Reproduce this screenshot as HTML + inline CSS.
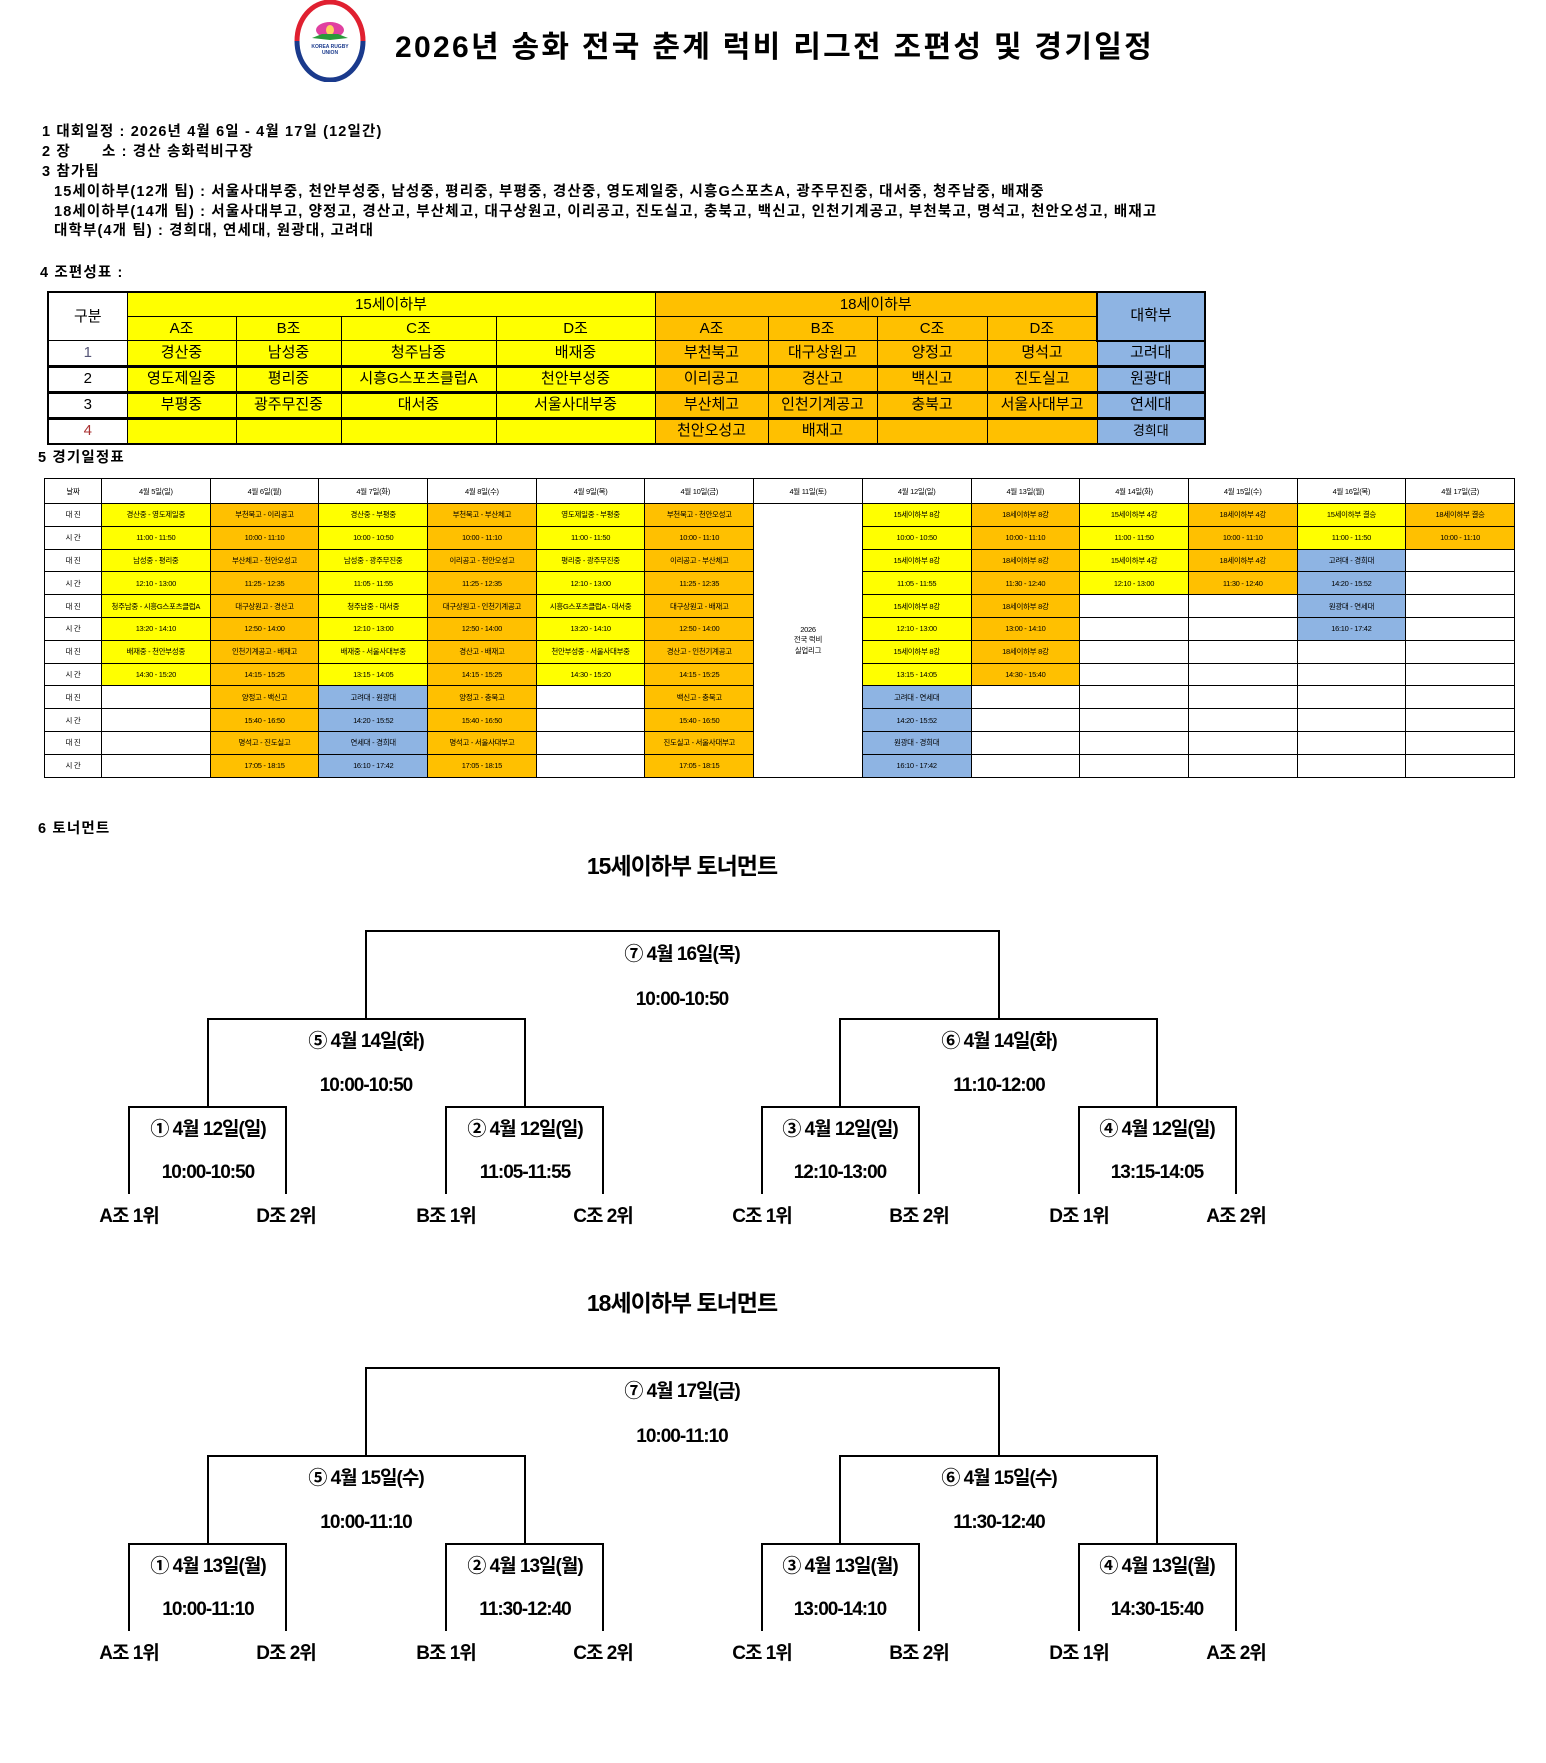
<!DOCTYPE html>
<html><head><meta charset="utf-8">
<style>
body{margin:0;background:#fff;}
#p{position:relative;width:1546px;height:1763px;overflow:hidden;font-family:"Liberation Sans","Noto Sans CJK KR",sans-serif;color:#000;}
.a{position:absolute;white-space:nowrap;}
.info{font-size:14.5px;font-weight:bold;letter-spacing:1.15px;}
table{border-collapse:collapse;table-layout:fixed;position:absolute;}
#g td{border:1px solid #000;text-align:center;font-size:15px;padding:0;height:23px;line-height:20px;}
#g tr.tk td{border-top:3px solid #000;}
#s td{border:1px solid #000;text-align:center;font-size:7.5px;padding:0;height:21.8px;overflow:hidden;white-space:nowrap;letter-spacing:-0.3px;}
#s tr.h td{height:24px;}
.Y{background:#ffff00;}.O{background:#ffc000;}.B{background:#8eb4e3;}
</style></head><body><div id="p">

<svg class="a" style="left:294px;top:0" width="72" height="82" viewBox="0 0 72 82">
<path d="M3,41 A33,39 0 0 1 69,41" fill="none" stroke="#e02030" stroke-width="5"/>
<path d="M3,41 A33,39 0 0 0 69,41" fill="none" stroke="#1a3a8c" stroke-width="5"/>
<ellipse cx="36" cy="30" rx="14" ry="8" fill="#e040a0"/>
<ellipse cx="36" cy="30" rx="4" ry="5" fill="#ffd060"/>
<path d="M18,38 L28,34 L44,34 L54,38 L36,40Z" fill="#2a9a3a"/>
<text x="36" y="48" font-size="5" text-anchor="middle" fill="#1a3a8c" font-weight="bold" font-family="Liberation Sans">KOREA RUGBY</text>
<text x="36" y="54" font-size="5" text-anchor="middle" fill="#1a3a8c" font-weight="bold" font-family="Liberation Sans">UNION</text>
</svg>
<div class="a" style="left:395px;top:22px;font-size:30px;font-weight:bold;letter-spacing:2.3px;">2026년 송화 전국 춘계 럭비 리그전 조편성 및 경기일정</div>

<div class="a info" style="left:42px;top:120px">1 대회일정 : 2026년 4월 6일 - 4월 17일 (12일간)</div>
<div class="a info" style="left:42px;top:140px">2 장&nbsp;&nbsp;&nbsp;&nbsp;&nbsp; 소 : 경산 송화럭비구장</div>
<div class="a info" style="left:42px;top:160px">3 참가팀</div>
<div class="a info" style="left:54px;top:180px">15세이하부(12개 팀) : 서울사대부중, 천안부성중, 남성중, 평리중, 부평중, 경산중, 영도제일중, 시흥G스포츠A, 광주무진중, 대서중, 청주남중, 배재중</div>
<div class="a info" style="left:54px;top:200px">18세이하부(14개 팀) : 서울사대부고, 양정고, 경산고, 부산체고, 대구상원고, 이리공고, 진도실고, 충북고, 백신고, 인천기계공고, 부천북고, 명석고, 천안오성고, 배재고</div>
<div class="a info" style="left:54px;top:219px">대학부(4개 팀) : 경희대, 연세대, 원광대, 고려대</div>
<div class="a info" style="left:40px;top:261px">4 조편성표 :</div>

<table id="g" style="left:47px;top:291px;width:1157px;border:2px solid #000">
<colgroup><col style="width:79px"><col style="width:109px"><col style="width:105px"><col style="width:155px"><col style="width:159px"><col style="width:113px"><col style="width:109px"><col style="width:110px"><col style="width:110px"><col style="width:108px"></colgroup>
<tr><td rowspan="2">구분</td><td class="Y" colspan="4">15세이하부</td><td class="O" colspan="4">18세이하부</td><td class="B" rowspan="2" style="border:2px solid #000">대학부</td></tr>
<tr><td class="Y">A조</td><td class="Y">B조</td><td class="Y">C조</td><td class="Y">D조</td><td class="O">A조</td><td class="O">B조</td><td class="O">C조</td><td class="O">D조</td></tr>
<tr><td style="color:#557">1</td><td class="Y">경산중</td><td class="Y">남성중</td><td class="Y">청주남중</td><td class="Y">배재중</td><td class="O">부천북고</td><td class="O">대구상원고</td><td class="O">양정고</td><td class="O">명석고</td><td class="B">고려대</td></tr>
<tr class="tk"><td>2</td><td class="Y">영도제일중</td><td class="Y">평리중</td><td class="Y">시흥G스포츠클럽A</td><td class="Y">천안부성중</td><td class="O">이리공고</td><td class="O">경산고</td><td class="O">백신고</td><td class="O">진도실고</td><td class="B">원광대</td></tr>
<tr class="tk"><td>3</td><td class="Y">부평중</td><td class="Y">광주무진중</td><td class="Y">대서중</td><td class="Y">서울사대부중</td><td class="O">부산체고</td><td class="O">인천기계공고</td><td class="O">충북고</td><td class="O">서울사대부고</td><td class="B">연세대</td></tr>
<tr class="tk"><td style="color:#a33">4</td><td class="Y"></td><td class="Y"></td><td class="Y"></td><td class="Y"></td><td class="O">천안오성고</td><td class="O">배재고</td><td class="O"></td><td class="O"></td><td class="B" style="font-size:13px">경희대</td></tr>
</table>

<div class="a info" style="left:38px;top:446px">5 경기일정표</div>

<table id="s" style="left:44px;top:478px;width:1470px">
<colgroup><col style="width:57px"><col span="13" style="width:108.7px"></colgroup>
<tr class="h"><td>날짜</td><td>4월 5일(일)</td><td>4월 6일(월)</td><td>4월 7일(화)</td><td>4월 8일(수)</td><td>4월 9일(목)</td><td>4월 10일(금)</td><td>4월 11일(토)</td><td>4월 12일(일)</td><td>4월 13일(월)</td><td>4월 14일(화)</td><td>4월 15일(수)</td><td>4월 16일(목)</td><td>4월 17일(금)</td></tr>
<tr><td>대 진</td><td class="Y">경산중 - 영도제일중</td><td class="O">부천북고 - 이리공고</td><td class="Y">경산중 - 부평중</td><td class="O">부천북고 - 부산체고</td><td class="Y">영도제일중 - 부평중</td><td class="O">부천북고 - 천안오성고</td><td rowspan="12">2026<br>전국 럭비<br>실업리그</td><td class="Y">15세이하부 8강</td><td class="O">18세이하부 8강</td><td class="Y">15세이하부 4강</td><td class="O">18세이하부 4강</td><td class="Y">15세이하부 결승</td><td class="O">18세이하부 결승</td></tr>
<tr><td>시 간</td><td class="Y">11:00 - 11:50</td><td class="O">10:00 - 11:10</td><td class="Y">10:00 - 10:50</td><td class="O">10:00 - 11:10</td><td class="Y">11:00 - 11:50</td><td class="O">10:00 - 11:10</td><td class="Y">10:00 - 10:50</td><td class="O">10:00 - 11:10</td><td class="Y">11:00 - 11:50</td><td class="O">10:00 - 11:10</td><td class="Y">11:00 - 11:50</td><td class="O">10:00 - 11:10</td></tr>
<tr><td>대 진</td><td class="Y">남성중 - 평리중</td><td class="O">부산체고 - 천안오성고</td><td class="Y">남성중 - 광주무진중</td><td class="O">이리공고 - 천안오성고</td><td class="Y">평리중 - 광주무진중</td><td class="O">이리공고 - 부산체고</td><td class="Y">15세이하부 8강</td><td class="O">18세이하부 8강</td><td class="Y">15세이하부 4강</td><td class="O">18세이하부 4강</td><td class="B">고려대 - 경희대</td><td></td></tr>
<tr><td>시 간</td><td class="Y">12:10 - 13:00</td><td class="O">11:25 - 12:35</td><td class="Y">11:05 - 11:55</td><td class="O">11:25 - 12:35</td><td class="Y">12:10 - 13:00</td><td class="O">11:25 - 12:35</td><td class="Y">11:05 - 11:55</td><td class="O">11:30 - 12:40</td><td class="Y">12:10 - 13:00</td><td class="O">11:30 - 12:40</td><td class="B">14:20 - 15:52</td><td></td></tr>
<tr><td>대 진</td><td class="Y">청주남중 - 시흥G스포츠클럽A</td><td class="O">대구상원고 - 경산고</td><td class="Y">청주남중 - 대서중</td><td class="O">대구상원고 - 인천기계공고</td><td class="Y">시흥G스포츠클럽A - 대서중</td><td class="O">대구상원고 - 배재고</td><td class="Y">15세이하부 8강</td><td class="O">18세이하부 8강</td><td></td><td></td><td class="B">원광대 - 연세대</td><td></td></tr>
<tr><td>시 간</td><td class="Y">13:20 - 14:10</td><td class="O">12:50 - 14:00</td><td class="Y">12:10 - 13:00</td><td class="O">12:50 - 14:00</td><td class="Y">13:20 - 14:10</td><td class="O">12:50 - 14:00</td><td class="Y">12:10 - 13:00</td><td class="O">13:00 - 14:10</td><td></td><td></td><td class="B">16:10 - 17:42</td><td></td></tr>
<tr><td>대 진</td><td class="Y">배재중 - 천안부성중</td><td class="O">인천기계공고 - 배재고</td><td class="Y">배재중 - 서울사대부중</td><td class="O">경산고 - 배재고</td><td class="Y">천안부성중 - 서울사대부중</td><td class="O">경산고 - 인천기계공고</td><td class="Y">15세이하부 8강</td><td class="O">18세이하부 8강</td><td></td><td></td><td></td><td></td></tr>
<tr><td>시 간</td><td class="Y">14:30 - 15:20</td><td class="O">14:15 - 15:25</td><td class="Y">13:15 - 14:05</td><td class="O">14:15 - 15:25</td><td class="Y">14:30 - 15:20</td><td class="O">14:15 - 15:25</td><td class="Y">13:15 - 14:05</td><td class="O">14:30 - 15:40</td><td></td><td></td><td></td><td></td></tr>
<tr><td>대 진</td><td></td><td class="O">양정고 - 백신고</td><td class="B">고려대 - 원광대</td><td class="O">양정고 - 충북고</td><td></td><td class="O">백신고 - 충북고</td><td class="B">고려대 - 연세대</td><td></td><td></td><td></td><td></td><td></td></tr>
<tr><td>시 간</td><td></td><td class="O">15:40 - 16:50</td><td class="B">14:20 - 15:52</td><td class="O">15:40 - 16:50</td><td></td><td class="O">15:40 - 16:50</td><td class="B">14:20 - 15:52</td><td></td><td></td><td></td><td></td><td></td></tr>
<tr><td>대 진</td><td></td><td class="O">명석고 - 진도실고</td><td class="B">연세대 - 경희대</td><td class="O">명석고 - 서울사대부고</td><td></td><td class="O">진도실고 - 서울사대부고</td><td class="B">원광대 - 경희대</td><td></td><td></td><td></td><td></td><td></td></tr>
<tr><td>시 간</td><td></td><td class="O">17:05 - 18:15</td><td class="B">16:10 - 17:42</td><td class="O">17:05 - 18:15</td><td></td><td class="O">17:05 - 18:15</td><td class="B">16:10 - 17:42</td><td></td><td></td><td></td><td></td><td></td></tr>
</table>

<div class="a info" style="left:38px;top:817px">6 토너먼트</div>

<svg class="a" style="left:0;top:0" width="1546" height="1763" font-family="Liberation Sans, Noto Sans CJK KR, sans-serif" font-weight="bold" font-size="19" text-anchor="middle" letter-spacing="-1">
<g fill="none" stroke="#000" stroke-width="2">
<path d="M366,1019 V931 H999 V1019"/>
<path d="M208,1107 V1019 H525 V1107"/>
<path d="M840,1107 V1019 H1157 V1107"/>
<path d="M129,1194 V1107 H286 V1194"/>
<path d="M446,1194 V1107 H603 V1194"/>
<path d="M762,1194 V1107 H919 V1194"/>
<path d="M1079,1194 V1107 H1236 V1194"/>
</g>
<g fill="none" stroke="#000" stroke-width="2" transform="translate(0,437)">
<path d="M366,1019 V931 H999 V1019"/>
<path d="M208,1107 V1019 H525 V1107"/>
<path d="M840,1107 V1019 H1157 V1107"/>
<path d="M129,1194 V1107 H286 V1194"/>
<path d="M446,1194 V1107 H603 V1194"/>
<path d="M762,1194 V1107 H919 V1194"/>
<path d="M1079,1194 V1107 H1236 V1194"/>
</g>
<text x="682" y="874" font-size="23">15세이하부 토너먼트</text>
<text x="682" y="960">⑦ 4월 16일(목)</text><text x="682" y="1005">10:00-10:50</text>
<text x="366" y="1047">⑤ 4월 14일(화)</text><text x="366" y="1091">10:00-10:50</text>
<text x="999" y="1047">⑥ 4월 14일(화)</text><text x="999" y="1091">11:10-12:00</text>
<text x="208" y="1135">① 4월 12일(일)</text><text x="208" y="1178">10:00-10:50</text>
<text x="525" y="1135">② 4월 12일(일)</text><text x="525" y="1178">11:05-11:55</text>
<text x="840" y="1135">③ 4월 12일(일)</text><text x="840" y="1178">12:10-13:00</text>
<text x="1157" y="1135">④ 4월 12일(일)</text><text x="1157" y="1178">13:15-14:05</text>
<text x="129" y="1222">A조 1위</text><text x="286" y="1222">D조 2위</text><text x="446" y="1222">B조 1위</text><text x="603" y="1222">C조 2위</text>
<text x="762" y="1222">C조 1위</text><text x="919" y="1222">B조 2위</text><text x="1079" y="1222">D조 1위</text><text x="1236" y="1222">A조 2위</text>

<text x="682" y="1311" font-size="23">18세이하부 토너먼트</text>
<text x="682" y="1397">⑦ 4월 17일(금)</text><text x="682" y="1442">10:00-11:10</text>
<text x="366" y="1484">⑤ 4월 15일(수)</text><text x="366" y="1528">10:00-11:10</text>
<text x="999" y="1484">⑥ 4월 15일(수)</text><text x="999" y="1528">11:30-12:40</text>
<text x="208" y="1572">① 4월 13일(월)</text><text x="208" y="1615">10:00-11:10</text>
<text x="525" y="1572">② 4월 13일(월)</text><text x="525" y="1615">11:30-12:40</text>
<text x="840" y="1572">③ 4월 13일(월)</text><text x="840" y="1615">13:00-14:10</text>
<text x="1157" y="1572">④ 4월 13일(월)</text><text x="1157" y="1615">14:30-15:40</text>
<text x="129" y="1659">A조 1위</text><text x="286" y="1659">D조 2위</text><text x="446" y="1659">B조 1위</text><text x="603" y="1659">C조 2위</text>
<text x="762" y="1659">C조 1위</text><text x="919" y="1659">B조 2위</text><text x="1079" y="1659">D조 1위</text><text x="1236" y="1659">A조 2위</text>
</svg>
</div></body></html>
